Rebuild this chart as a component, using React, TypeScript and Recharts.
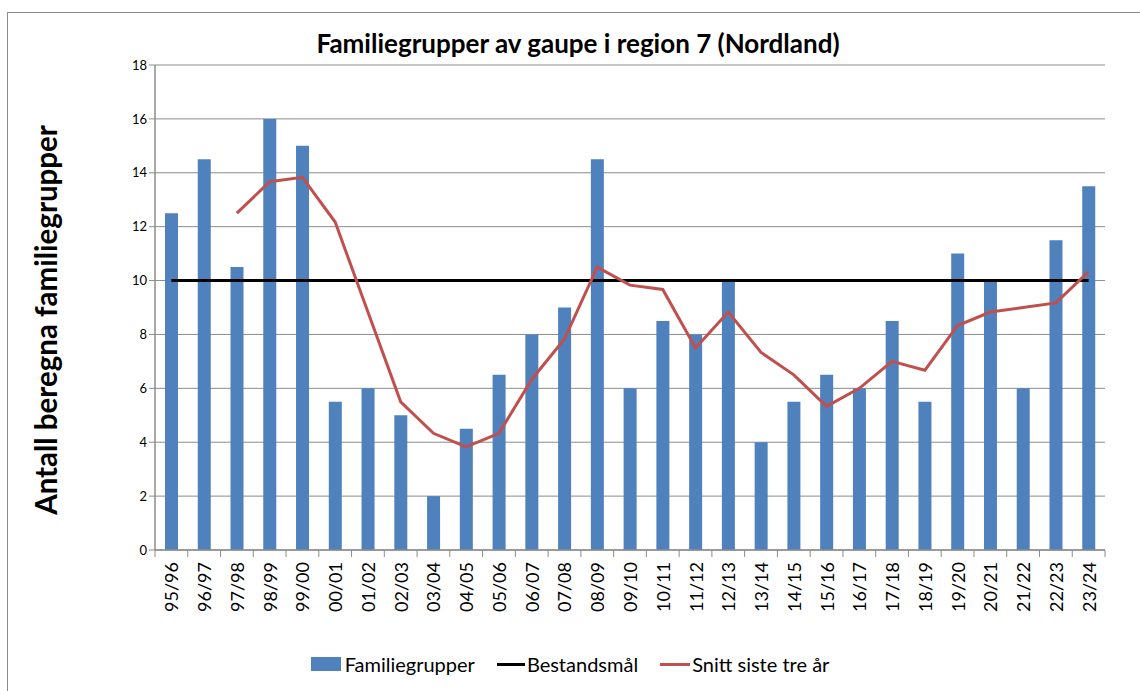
import { ComposedChart, Bar, Line, XAxis, YAxis, CartesianGrid, Legend } from 'recharts';

const seasons = [
  '95/96', '96/97', '97/98', '98/99', '99/00', '00/01', '01/02', '02/03', '03/04', '04/05',
  '05/06', '06/07', '07/08', '08/09', '09/10', '10/11', '11/12', '12/13', '13/14', '14/15',
  '15/16', '16/17', '17/18', '18/19', '19/20', '20/21', '21/22', '22/23', '23/24',
];

const familiegrupper = [
  12.5, 14.5, 10.5, 16, 15, 5.5, 6, 5, 2, 4.5,
  6.5, 8, 9, 14.5, 6, 8.5, 8, 10, 4, 5.5,
  6.5, 6, 8.5, 5.5, 11, 10, 6, 11.5, 13.5,
];

const bestandsmaal = [
  10, 10, 10, 10, 10, 10, 10, 10, 10, 10,
  10, 10, 10, 10, 10, 10, 10, 10, 10, 10,
  10, 10, 10, 10, 10, 10, 10, 10, 10,
];

const snitt = [
  null, null, 12.5, 13.67, 13.83, 12.17, 8.83, 5.5, 4.33, 3.83,
  4.33, 6.33, 7.83, 10.5, 9.83, 9.67, 7.5, 8.83, 7.33, 6.5,
  5.33, 6, 7, 6.67, 8.33, 8.83, 9, 9.17, 10.33,
];

const yTicks = [0, 2, 4, 6, 8, 10, 12, 14, 16, 18];

const data = seasons.map((s, i) => ({
  season: s,
  fam: familiegrupper[i],
  maal: bestandsmaal[i],
  snitt: snitt[i],
}));

const FONT = 'Lato, "Open Sans", sans-serif';
const BLUE = '#4f81bd';
const RED = '#c0504d';

const ML = 105;
const MR = 35;
const YW = 50;
const W = 1140;
const step = (W - ML - MR - YW) / seasons.length;

function SeasonTick(props: any) {
  const { x, y, payload, index } = props;
  const last = index === seasons.length - 1;
  return (
    <g>
      <line x1={x - step / 2} x2={x - step / 2} y1={y - 8} y2={y - 1} stroke="#8c8c8c" />
      {last && <line x1={x + step / 2} x2={x + step / 2} y1={y - 8} y2={y - 1} stroke="#8c8c8c" />}
      <text
        x={x}
        y={y + 4}
        transform={`rotate(-90, ${x}, ${y + 4})`}
        textAnchor="end"
        dominantBaseline="central"
        fontSize={18}
        fontFamily={FONT}
        fill="#000"
      >
        {payload.value}
      </text>
    </g>
  );
}

function LegendBox() {
  const item = { display: 'flex', alignItems: 'center', marginRight: 22 } as const;
  const txt = { fontSize: 20, fontFamily: FONT, color: '#000' };
  return (
    <div style={{ display: 'flex', justifyContent: 'center', paddingLeft: 0 }}>
      <div style={item}>
        <span style={{ width: 30, height: 14, background: BLUE, marginRight: 4, display: 'inline-block' }} />
        <span style={txt}>Familiegrupper</span>
      </div>
      <div style={item}>
        <span style={{ width: 28, height: 3, background: '#000', marginRight: 2, display: 'inline-block' }} />
        <span style={txt}>Bestandsmål</span>
      </div>
      <div style={{ ...item, marginRight: 0 }}>
        <span style={{ width: 30, height: 3, background: RED, marginRight: 2, display: 'inline-block' }} />
        <span style={txt}>Snitt siste tre år</span>
      </div>
    </div>
  );
}

export default function App() {
  return (
    <div style={{ position: 'absolute', left: 0, top: 0, width: 1140, height: 691, background: '#fff', overflow: 'hidden' }}>
      <div
        style={{
          position: 'absolute',
          left: 7,
          top: 12,
          width: 1200,
          height: 700,
          border: '1.5px solid #8a8a8a',
        }}
      />
      <div
        style={{
          position: 'absolute',
          left: 0,
          width: 1156,
          top: 27,
          textAlign: 'center',
          fontFamily: FONT,
          fontWeight: 700,
          fontSize: 26,
          color: '#000',
        }}
      >
        Familiegrupper av gaupe i region 7 (Nordland)
      </div>
      <div
        style={{
          position: 'absolute',
          left: 45,
          top: 320,
          transform: 'translate(-50%, -50%) rotate(-90deg)',
          whiteSpace: 'nowrap',
          fontFamily: FONT,
          fontWeight: 700,
          fontSize: 29.5,
          color: '#000',
        }}
      >
        Antall beregna familiegrupper
      </div>
      <div style={{ position: 'absolute', left: 0, top: 0 }}>
        <ComposedChart
          width={W}
          height={691}
          data={data}
          margin={{ top: 65, right: MR, bottom: 47, left: ML }}
          barCategoryGap="60%"
        >
          <CartesianGrid vertical={false} stroke="#8c8c8c" strokeWidth={1} />
          <XAxis
            dataKey="season"
            height={70}
            interval={0}
            tickLine={false}
            axisLine={{ stroke: '#8c8c8c', strokeWidth: 1.5 }}
            tick={<SeasonTick />}
          />
          <YAxis
            width={YW}
            domain={[0, 18]}
            ticks={yTicks}
            interval={0}
            axisLine={{ stroke: '#8c8c8c', strokeWidth: 1.5 }}
            tickLine={{ stroke: '#8c8c8c' }}
            tickSize={6}
            tick={{ fontSize: 13, fontFamily: FONT, fill: '#000' }}
          />
          <Legend
            verticalAlign="bottom"
            content={<LegendBox />}
            wrapperStyle={{ position: 'absolute', top: 652, left: 0, width: W }}
          />
          <Bar dataKey="fam" name="Familiegrupper" fill={BLUE} barSize={13} isAnimationActive={false} />
          <Line
            dataKey="maal"
            name="Bestandsmål"
            stroke="#000"
            strokeWidth={3}
            dot={false}
            type="linear"
            isAnimationActive={false}
          />
          <Line
            dataKey="snitt"
            name="Snitt siste tre år"
            stroke={RED}
            strokeWidth={3}
            dot={false}
            type="linear"
            connectNulls={false}
            isAnimationActive={false}
          />
        </ComposedChart>
      </div>
    </div>
  );
}
